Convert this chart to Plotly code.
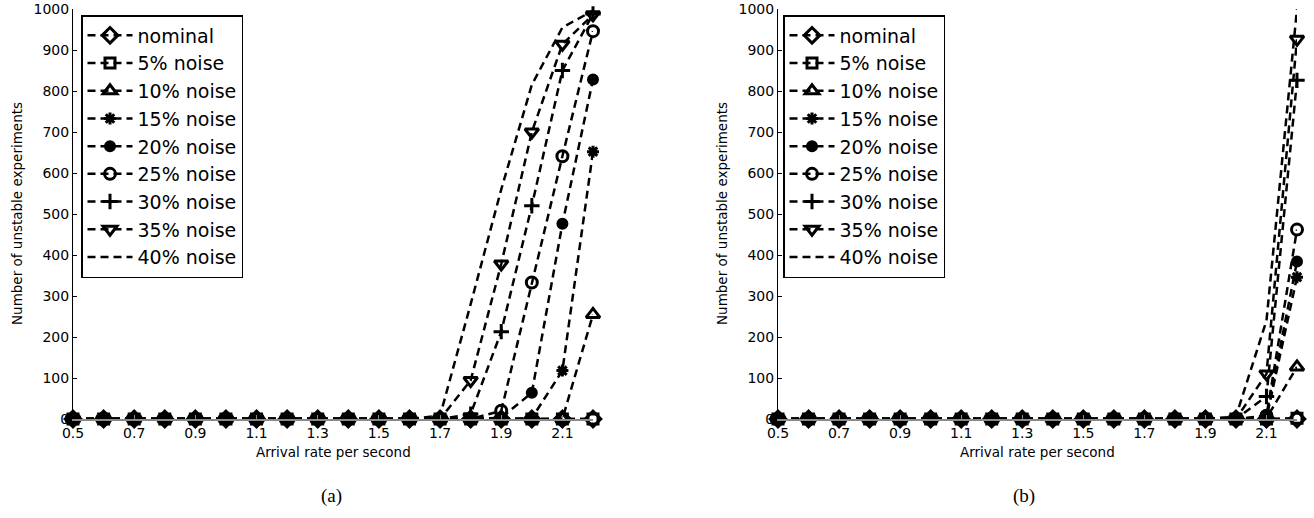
import plotly.graph_objects as go

# ---------------- data ----------------
arrival = [0.5, 0.6, 0.7, 0.8, 0.9, 1.0, 1.1, 1.2, 1.3, 1.4, 1.5, 1.6, 1.7, 1.8, 1.9, 2.0, 2.1, 2.2]
series_names = ["nominal", "5% noise", "10% noise", "15% noise", "20% noise",
                "25% noise", "30% noise", "35% noise", "40% noise"]
x_tick_vals = [0.5, 0.7, 0.9, 1.1, 1.3, 1.5, 1.7, 1.9, 2.1]
x_tick_text = ["0.5", "0.7", "0.9", "1.1", "1.3", "1.5", "1.7", "1.9", "2.1"]
y_tick_vals = [0, 100, 200, 300, 400, 500, 600, 700, 800, 900, 1000]

# (a)
a_nominal = [0, 0, 0, 0, 0, 0, 0, 0, 0, 0, 0, 0, 0, 0, 0, 0, 0, 0]
a_n5 = [0, 0, 0, 0, 0, 0, 0, 0, 0, 0, 0, 0, 0, 0, 0, 0, 0, 0]
a_n10 = [0, 0, 0, 0, 0, 0, 0, 0, 0, 0, 0, 0, 0, 0, 0, 0, 0, 255]
a_n15 = [0, 0, 0, 0, 0, 0, 0, 0, 0, 0, 0, 0, 0, 0, 0, 2, 118, 652]
a_n20 = [0, 0, 0, 0, 0, 0, 0, 0, 0, 0, 0, 0, 0, 0, 3, 64, 476, 828]
a_n25 = [0, 0, 0, 0, 0, 0, 0, 0, 0, 0, 0, 0, 0, 0, 20, 333, 641, 946]
a_n30 = [0, 0, 0, 0, 0, 0, 0, 0, 0, 0, 0, 0, 0, 12, 213, 520, 850, 988]
a_n35 = [0, 0, 0, 0, 0, 0, 0, 0, 0, 0, 0, 0, 0, 94, 378, 700, 914, 986]
a_n40 = [0, 0, 0, 0, 0, 0, 0, 0, 0, 0, 0, 0, 8, 280, 560, 815, 955, 996]

# (b)
b_nominal = [0, 0, 0, 0, 0, 0, 0, 0, 0, 0, 0, 0, 0, 0, 0, 0, 0, 0]
b_n5 = [0, 0, 0, 0, 0, 0, 0, 0, 0, 0, 0, 0, 0, 0, 0, 0, 0, 2]
b_n10 = [0, 0, 0, 0, 0, 0, 0, 0, 0, 0, 0, 0, 0, 0, 0, 0, 2, 127]
b_n15 = [0, 0, 0, 0, 0, 0, 0, 0, 0, 0, 0, 0, 0, 0, 0, 0, 3, 346]
b_n20 = [0, 0, 0, 0, 0, 0, 0, 0, 0, 0, 0, 0, 0, 0, 0, 0, 5, 384]
b_n25 = [0, 0, 0, 0, 0, 0, 0, 0, 0, 0, 0, 0, 0, 0, 0, 0, 8, 462]
b_n30 = [0, 0, 0, 0, 0, 0, 0, 0, 0, 0, 0, 0, 0, 0, 0, 0, 55, 826]
b_n35 = [0, 0, 0, 0, 0, 0, 0, 0, 0, 0, 0, 0, 0, 0, 0, 0, 110, 926]
b_n40 = [0, 0, 0, 0, 0, 0, 0, 0, 0, 0, 0, 0, 0, 0, 0, 6, 240, 1000]

series_a = [a_nominal, a_n5, a_n10, a_n15, a_n20, a_n25, a_n30, a_n35, a_n40]
series_b = [b_nominal, b_n5, b_n10, b_n15, b_n20, b_n25, b_n30, b_n35, b_n40]

# ---------------- styles ----------------
symbols = ["diamond-open", "square-open", "triangle-up-open", "asterisk-open", "circle",
           "circle-open", "cross-thin-open", "triangle-down-open", None]
sizes = [12, 10, 12, 10, 9, 11, 11, 12, 0]
FONT = "DejaVu Sans, Liberation Sans, Arial, sans-serif"

W, H = 1314, 518

def px(p):
    return p / W

def py(p):
    return 1 - p / H

fig = go.Figure()

def add_panel(series, xa, ya, legend_name):
    for name, ys, sym, sz in zip(series_names, series, symbols, sizes):
        kw = {}
        if sym is not None:
            kw["marker"] = dict(color="black", size=sz, symbol=sym,
                                line=dict(color="black", width=3))
            mode = "lines+markers"
        else:
            mode = "lines"
        fig.add_trace(go.Scatter(
            x=arrival, y=ys, name=name, mode=mode,
            line=dict(color="black", width=2.5, dash="8px,5px"),
            xaxis=xa, yaxis=ya, legend=legend_name, cliponaxis=False, **kw,
        ))

add_panel(series_a, "x", "y", "legend")
add_panel(series_b, "x2", "y2", "legend2")

axis_common_x = dict(
    range=[0.5, 2.2], tickvals=x_tick_vals, ticktext=x_tick_text,
    showline=True, linecolor="#8a8a8a", linewidth=1.5, ticks="inside", ticklen=4,
    tickcolor="#8a8a8a", showgrid=False, zeroline=False, automargin=False,
    ticklabeloverflow="allow",
    tickfont=dict(family=FONT, size=14, color="black"),
)
axis_common_y = dict(
    range=[0, 1000], tickvals=y_tick_vals, showline=True, linecolor="black", linewidth=1,
    ticks="inside", ticklen=4, tickcolor="black", showgrid=False, zeroline=False,
    automargin=False, ticklabeloverflow="allow",
    tickfont=dict(family=FONT, size=14, color="black"), domain=[py(419), py(9)],
)

legend_common = dict(
    bgcolor="white", bordercolor="black", borderwidth=1.5,
    font=dict(family=FONT, size=19, color="black"),
    xanchor="left", yanchor="top", tracegroupgap=0, itemwidth=45,
)

fig.update_layout(
    template="none",
    width=W, height=H, margin=dict(l=0, r=0, t=0, b=0, autoexpand=False),
    paper_bgcolor="white", plot_bgcolor="white",
    xaxis=dict(domain=[px(73), px(593)], anchor="y", **axis_common_x),
    yaxis=dict(anchor="x", **axis_common_y),
    xaxis2=dict(domain=[px(778), px(1297)], anchor="y2", **axis_common_x),
    yaxis2=dict(anchor="x2", **axis_common_y),
    legend=dict(x=px(81), y=py(15), **legend_common),
    legend2=dict(x=px(783), y=py(15), **legend_common),
    showlegend=True,
)

for xc in (333, 1037):
    fig.add_annotation(text="Arrival rate per second", xref="paper", yref="paper",
                       x=px(xc), y=py(452), showarrow=False, xanchor="center",
                       yanchor="middle", font=dict(family=FONT, size=13.5, color="black"))

for xpix in (17, 722):
    fig.add_annotation(text="Number of unstable experiments", xref="paper", yref="paper",
                       x=px(xpix), y=py(214), textangle=-90, showarrow=False,
                       xanchor="center", yanchor="middle",
                       font=dict(family=FONT, size=13.5, color="black"))

for label, xpix in (("(a)", 331), ("(b)", 1024)):
    fig.add_annotation(text=label, xref="paper", yref="paper", x=px(xpix), y=py(496),
                       showarrow=False, xanchor="center", yanchor="middle",
                       font=dict(family="Liberation Serif, Times New Roman, serif", size=19,
                                 color="black"))

# remove the browser's default 8px page margin so figure pixels match page pixels
fig.write_html("out.html", config={"displayModeBar": False},
               post_script="document.body.style.margin='0px';")
